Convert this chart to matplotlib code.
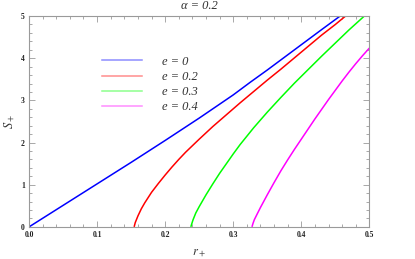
import matplotlib
matplotlib.use("Agg")
import matplotlib.pyplot as plt
from matplotlib.ticker import MultipleLocator
from matplotlib.lines import Line2D

plt.rcParams["mathtext.fontset"] = "stix"

# Data
blue_r = [0.0, 0.05, 0.10, 0.15, 0.20, 0.25, 0.30, 0.325, 0.35, 0.375, 0.40, 0.43, 0.457]
blue_s = [0.0, 0.51, 1.02, 1.53, 2.05, 2.58, 3.13, 3.43, 3.72, 4.02, 4.32, 4.68, 5.0]

red_r = [0.1544, 0.156, 0.16, 0.165, 0.17, 0.18, 0.19, 0.20, 0.21, 0.22, 0.23, 0.25, 0.27,
         0.29, 0.31, 0.33, 0.35, 0.37, 0.39, 0.41, 0.43, 0.45, 0.465]
red_s = [0.0, 0.1, 0.26, 0.43, 0.57, 0.82, 1.03, 1.23, 1.42, 1.6, 1.77, 2.08, 2.38,
         2.66, 2.94, 3.21, 3.48, 3.74, 4.01, 4.28, 4.55, 4.8, 5.0]

green_r = [0.2377, 0.239, 0.241, 0.245, 0.25, 0.26, 0.27, 0.28, 0.29, 0.30, 0.31, 0.32, 0.33,
           0.35, 0.37, 0.39, 0.41, 0.43, 0.45, 0.47, 0.4926]
green_s = [0.0, 0.07, 0.17, 0.33, 0.48, 0.76, 1.02, 1.27, 1.5, 1.73, 1.95, 2.15, 2.35,
           2.72, 3.07, 3.41, 3.73, 4.05, 4.36, 4.67, 5.0]

mag_r = [0.3275, 0.329, 0.331, 0.335, 0.34, 0.35, 0.36, 0.37, 0.38, 0.39, 0.40, 0.41, 0.42,
         0.43, 0.44, 0.45, 0.46, 0.47, 0.48, 0.49, 0.5]
mag_s = [0.0, 0.08, 0.17, 0.3, 0.46, 0.76, 1.05, 1.33, 1.59, 1.84, 2.08, 2.32, 2.56,
         2.79, 3.02, 3.24, 3.46, 3.67, 3.87, 4.06, 4.24]

labels = ["e = 0", "e = 0.2", "e = 0.3", "e = 0.4"]
colors = ["#0000ff", "#ff0000", "#00ff00", "#ff00ff"]
x_ticks = [0.0, 0.1, 0.2, 0.3, 0.4, 0.5]
x_ticklabels = ["0.0", "0.1", "0.2", "0.3", "0.4", "0.5"]
y_ticks = [0, 1, 2, 3, 4, 5]

fig = plt.figure(figsize=(4.15, 2.59), dpi=100)
ax = fig.add_axes([0.070, 0.124, 0.820, 0.814])

series = [(blue_r, blue_s), (red_r, red_s), (green_r, green_s), (mag_r, mag_s)]
for (r, s), c in zip(series, colors):
    ax.plot(r, s, color=c, lw=1.1, solid_capstyle="butt", solid_joinstyle="round")

ax.set_xlim(0, 0.5)
ax.set_ylim(0, 5)
ax.set_xticks(x_ticks)
ax.set_xticklabels(x_ticklabels)
ax.set_yticks(y_ticks)
ax.xaxis.set_minor_locator(MultipleLocator(0.02))
ax.yaxis.set_minor_locator(MultipleLocator(0.2))

frame_c = "#9a9a9a"
for sp in ax.spines.values():
    sp.set_color(frame_c)
    sp.set_linewidth(0.8)
ax.tick_params(which="both", direction="in", top=True, right=True, color=frame_c, width=0.6)
ax.tick_params(which="major", length=4, pad=3)
ax.tick_params(which="minor", length=2)
for lab in ax.get_xticklabels() + ax.get_yticklabels():
    lab.set_family("Liberation Serif")
    lab.set_fontweight("bold")
    lab.set_fontsize(5.5)
    lab.set_color("#222222")

ax.set_title("α = 0.2", family="Liberation Serif", style="italic", fontsize=9, color="#333333", pad=5)
ax.set_xlabel("$r_+$", fontsize=9, color="#333333", labelpad=5)
ax.set_ylabel("$S_+$", fontsize=9, color="#333333", labelpad=3)

handles = [Line2D([0], [0], color=c, lw=1.1, alpha=0.45) for c in colors]
leg = ax.legend(handles, labels, loc="upper left", bbox_to_anchor=(0.18, 0.865),
                frameon=False, handlelength=3.2, handletextpad=1.6, labelspacing=0.25,
                prop={"family": "Liberation Serif", "style": "italic", "size": 9})
for t in leg.get_texts():
    t.set_color("#333333")

fig.savefig("out.png", dpi=100)
